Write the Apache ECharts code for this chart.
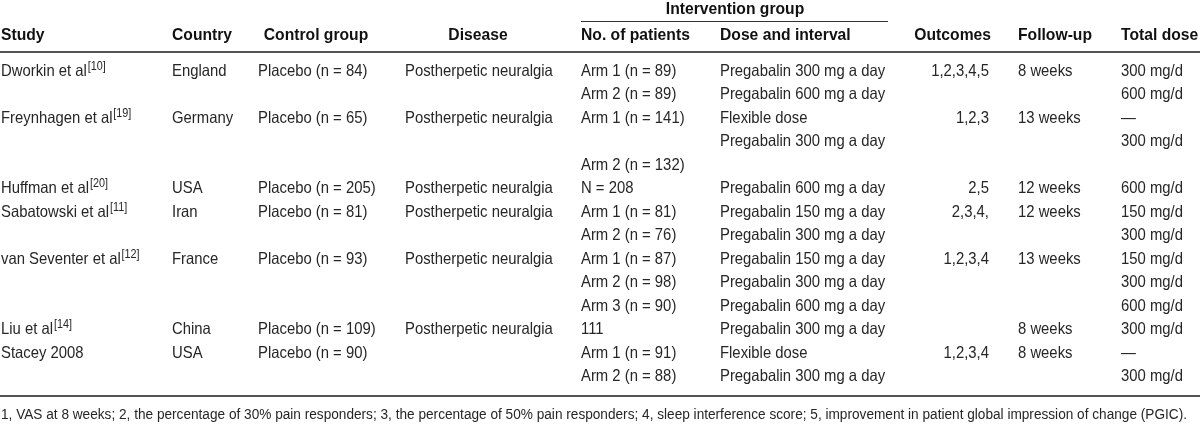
<!DOCTYPE html>
<html><head><meta charset="utf-8">
<script src="https://cdn.jsdelivr.net/npm/echarts@6/dist/echarts.min.js"></script>
<style>html,body{margin:0;padding:0;background:#fff}#c{width:1200px;height:424px}</style>
</head><body><div id="c"></div>
<script>
// ---- data ----
const headers = ['Study','Country','Control group','Disease','No. of patients','Dose and interval','Outcomes','Follow-up','Total dose'];
const groupHeader = 'Intervention group';
const study = ['Dworkin et al','','Freynhagen et al','','','Huffman et al','Sabatowski et al','','van Seventer et al','','','Liu et al','Stacey 2008',''];
const studyRef = ['10','','19','','','20','11','','12','','','14','',''];
const country = ['England','','Germany','','','USA','Iran','','France','','','China','USA',''];
const control = ['Placebo (n = 84)','','Placebo (n = 65)','','','Placebo (n = 205)','Placebo (n = 81)','','Placebo (n = 93)','','','Placebo (n = 109)','Placebo (n = 90)',''];
const disease = ['Postherpetic neuralgia','','Postherpetic neuralgia','','','Postherpetic neuralgia','Postherpetic neuralgia','','Postherpetic neuralgia','','','Postherpetic neuralgia','',''];
const patients = ['Arm 1 (n = 89)','Arm 2 (n = 89)','Arm 1 (n = 141)','','Arm 2 (n = 132)','N = 208','Arm 1 (n = 81)','Arm 2 (n = 76)','Arm 1 (n = 87)','Arm 2 (n = 98)','Arm 3 (n = 90)','111','Arm 1 (n = 91)','Arm 2 (n = 88)'];
const dose = ['Pregabalin 300 mg a day','Pregabalin 600 mg a day','Flexible dose','Pregabalin 300 mg a day','','Pregabalin 600 mg a day','Pregabalin 150 mg a day','Pregabalin 300 mg a day','Pregabalin 150 mg a day','Pregabalin 300 mg a day','Pregabalin 600 mg a day','Pregabalin 300 mg a day','Flexible dose','Pregabalin 300 mg a day'];
const outcomes = ['1,2,3,4,5','','1,2,3','','','2,5','2,3,4,','','1,2,3,4','','','','1,2,3,4',''];
const followUp = ['8 weeks','','13 weeks','','','12 weeks','12 weeks','','13 weeks','','','8 weeks','8 weeks',''];
const totalDose = ['300 mg/d','600 mg/d','\u2014','300 mg/d','','600 mg/d','150 mg/d','300 mg/d','150 mg/d','300 mg/d','600 mg/d','300 mg/d','\u2014','300 mg/d'];
const footnote = '1, VAS at 8 weeks; 2, the percentage of 30% pain responders; 3, the percentage of 50% pain responders; 4, sleep interference score; 5, improvement in patient global impression of change (PGIC).';

// ---- layout / style ----
const FONT = "'Liberation Sans', Arial, sans-serif";
const TXT = '#262626';
const HEAD = '#111';
const RULE = '#555';
const BODY_SIZE = 16.5, BODY_SX = 0.9;
const HEAD_SIZE = 16.5, HEAD_SX = 0.95;
const colX = [1, 172, 258, 405, 581, 720, 989, 1018, 1121];
const colAlign = ['left','left','left','left','left','left','right','left','left'];
const headX = [1, 172, 316, 478, 581, 720, 991, 1018, 1121];
const headAlign = ['left','left','center','center','left','left','right','left','left'];
const rowsN = patients.length;
const rowIdx = patients.map((_, i) => String(i));
const columns = [study, country, control, disease, patients, dose, outcomes, followUp, totalDose];

const series = columns.map((col, c) => {
  const cells = col.map((t, i) => [colX[c], i, t]).filter(d => d[2] !== '');
  return {
    type: 'custom',
    silent: true,
    clip: false,
    data: cells.map(d => [d[0], d[1]]),
    renderItem: (params, api) => {
      const cell = cells[params.dataIndex];
      const row = cell[1];
      const ref = c === 0 ? studyRef[row] : '';
      const p = api.coord([api.value(0), api.value(1)]);
      const text = ref ? '{a|' + cell[2] + '}{s|[' + ref + ']}' : cell[2];
      return {
        type: 'text', x: p[0], y: p[1], scaleX: BODY_SX,
        style: {
          text: text, fill: TXT, font: BODY_SIZE + 'px ' + FONT,
          align: colAlign[c], verticalAlign: 'middle',
          rich: {
            a: { fontFamily: FONT, fontSize: BODY_SIZE, fill: TXT, color: TXT },
            s: { fontFamily: FONT, fontSize: 12, fill: TXT, color: TXT, padding: [0, 0, 9, 1] }
          }
        }
      };
    }
  };
});

// fit footnote to its measured span
const cv = document.createElement('canvas').getContext('2d');
cv.font = '15.5px ' + FONT;
const footSX = 1186 / cv.measureText(footnote).width;

const graphics = [];
headers.forEach((h, c) => {
  graphics.push({ type: 'text', x: headX[c], y: 35, silent: true, scaleX: HEAD_SX,
    style: { text: h, font: 'bold ' + HEAD_SIZE + 'px ' + FONT, fill: HEAD, textAlign: headAlign[c], textVerticalAlign: 'middle' } });
});
graphics.push({ type: 'text', x: 735, y: 9, silent: true, scaleX: HEAD_SX,
  style: { text: groupHeader, font: 'bold ' + HEAD_SIZE + 'px ' + FONT, fill: HEAD, textAlign: 'center', textVerticalAlign: 'middle' } });
graphics.push({ type: 'line', silent: true, shape: { x1: 581, y1: 21.5, x2: 888, y2: 21.5 }, style: { stroke: '#333', lineWidth: 1 } });
graphics.push({ type: 'line', silent: true, shape: { x1: 0, y1: 52, x2: 1200, y2: 52 }, style: { stroke: RULE, lineWidth: 2 } });
graphics.push({ type: 'line', silent: true, shape: { x1: 0, y1: 396, x2: 1200, y2: 396 }, style: { stroke: RULE, lineWidth: 2 } });
graphics.push({ type: 'text', x: 1, y: 415, silent: true, scaleX: footSX,
  style: { text: footnote, font: '15.5px ' + FONT, fill: TXT, textAlign: 'left', textVerticalAlign: 'middle' } });

const chart = echarts.init(document.getElementById('c'), null, { renderer: 'canvas' });
chart.setOption({
  animation: false,
  backgroundColor: '#fff',
  grid: { left: 0, right: 0, top: 59.25, height: 23.5 * rowsN },
  xAxis: { type: 'value', min: 0, max: 1200, show: false },
  yAxis: { type: 'category', data: rowIdx, inverse: true, show: false },
  series: series,
  graphic: graphics
});
</script></body></html>
